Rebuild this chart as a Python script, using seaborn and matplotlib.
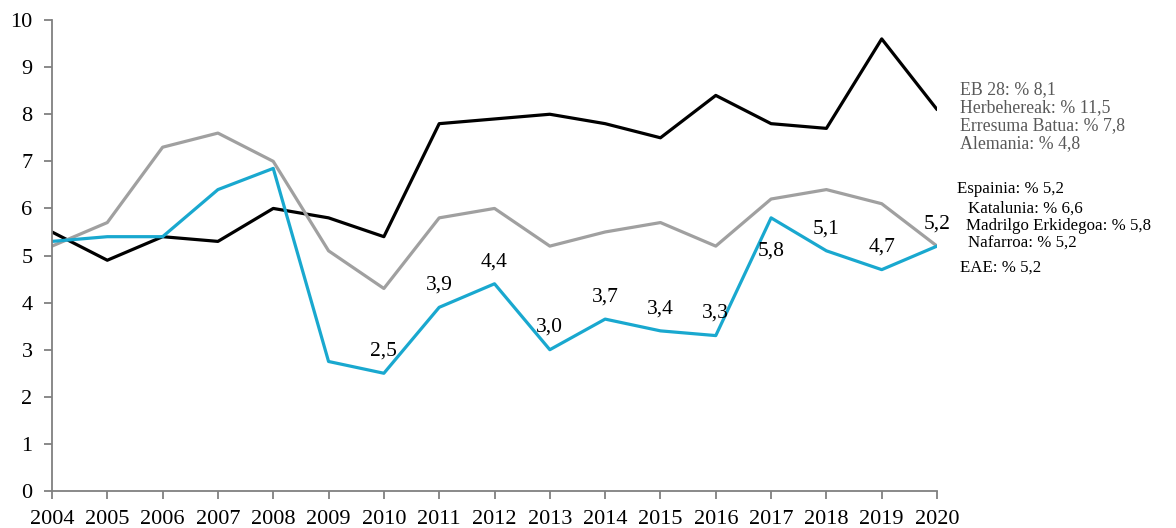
import pandas as pd
import numpy as np
import matplotlib
matplotlib.use("Agg")
import matplotlib.pyplot as plt
import seaborn as sns

years = list(range(2004, 2021))
eb28 = [5.5, 4.9, 5.4, 5.3, 6.0, 5.8, 5.4, 7.8, 7.9, 8.0, 7.8, 7.5, 8.4, 7.8, 7.7, 9.6, 8.1]
espainia = [5.2, 5.7, 7.3, 7.6, 7.0, 5.1, 4.3, 5.8, 6.0, 5.2, 5.5, 5.7, 5.2, 6.2, 6.4, 6.1, 5.2]
eae = [5.3, 5.4, 5.4, 6.4, 6.85, 2.75, 2.5, 3.9, 4.4, 3.0, 3.65, 3.4, 3.3, 5.8, 5.1, 4.7, 5.2]

eae_labels = ["2,5", "3,9", "4,4", "3,0", "3,7", "3,4", "3,3", "5,8", "5,1", "4,7", "5,2"]
eae_label_years = list(range(2010, 2021))

eu_notes = ["EB 28: % 8,1", "Herbehereak: % 11,5", "Erresuma Batua: % 7,8", "Alemania: % 4,8"]
es_notes = ["Espainia: % 5,2", "Katalunia: % 6,6", "Madrilgo Erkidegoa: % 5,8", "Nafarroa: % 5,2"]
eae_note = "EAE: % 5,2"

df = pd.DataFrame({
    "urtea": years * 3,
    "balioa": eb28 + espainia + eae,
    "serie": ["EB 28"] * 17 + ["Espainia"] * 17 + ["EAE"] * 17,
})

sns.set_style("white")
plt.rcParams["font.family"] = ["Liberation Serif", "DejaVu Serif"]

fig = plt.figure(figsize=(11.76, 5.28), dpi=100)
ax = fig.add_axes([0.0442, 0.0701, 0.7526, 0.8919])

colours = {"EB 28": "#000000", "Espainia": "#a0a0a0", "EAE": "#19a8cf"}
sns.lineplot(data=df, x="urtea", y="balioa", hue="serie", palette=colours,
             linewidth=2.3, legend=False, ax=ax)

ax.set_xlim(2004, 2020)
ax.set_ylim(0, 10)
ax.set_xticks(years)
ax.set_yticks(range(0, 11))
ax.set_xlabel("")
ax.set_ylabel("")
ax.tick_params(axis="both", labelsize=16, labelcolor="#000000", length=6, width=1.3,
               direction="out", color="#808080", bottom=True, left=True)
ax.tick_params(axis="y", pad=8)
ax.tick_params(axis="x", pad=8)
for s in ["top", "right"]:
    ax.spines[s].set_visible(False)
for s in ["left", "bottom"]:
    ax.spines[s].set_color("#808080")
    ax.spines[s].set_linewidth(1.3)

for yr, lab in zip(eae_label_years, eae_labels):
    v = eae[years.index(yr)]
    off = -24 if lab == "5,8" else 16
    ax.annotate(lab, (yr, v), xytext=(0, off), textcoords="offset points",
                ha="center", va="center", fontsize=15.5, color="#000000")

for i, t in enumerate(eu_notes):
    fig.text(960 / 1176, 1 - (90 + i * 18) / 528, t, fontsize=12.8, color="#595959",
             ha="left", va="center")

es_x = [957, 968, 966, 968]
es_y = [189, 209, 226, 244]
for t, xx, yy in zip(es_notes, es_x, es_y):
    fig.text(xx / 1176, 1 - yy / 528, t, fontsize=12.2, color="#000000", ha="left", va="center")
fig.text(960 / 1176, 1 - 268 / 528, eae_note, fontsize=12.2, color="#000000", ha="left", va="center")

plt.savefig("out.png", dpi=100)
